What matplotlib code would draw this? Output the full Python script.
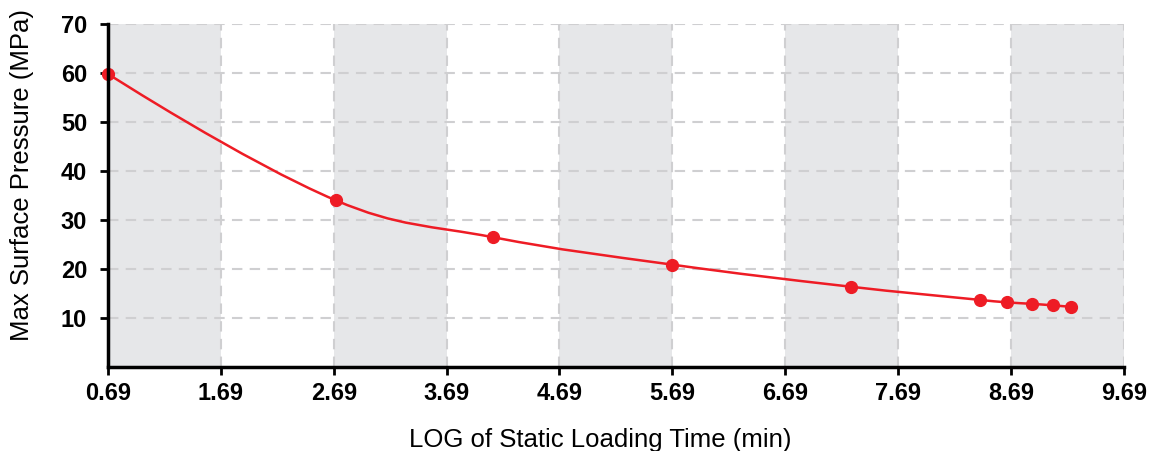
import numpy as np
import matplotlib
matplotlib.use('Agg')
import matplotlib.pyplot as plt
from matplotlib.path import Path
from matplotlib.patches import PathPatch

# ========== 数据 ==========
log_time = [0.69, 2.71, 4.10, 5.69, 7.27, 8.42, 8.66, 8.88, 9.06, 9.22]
pressure = [59.8, 34.0, 26.5, 20.9, 16.4, 13.7, 13.2, 12.9, 12.6, 12.3]

x_ticks = [0.69, 1.69, 2.69, 3.69, 4.69, 5.69, 6.69, 7.69, 8.69, 9.69]
y_ticks = [10, 20, 30, 40, 50, 60, 70]

RED = '#ee1c25'
BAND = '#e6e7e9'
GRID = '#cfcfd1'

plt.rcParams['font.family'] = ['Liberation Sans', 'DejaVu Sans']


def spline_path(xs, ys, smoothing=1.5):
    """Bezier 平滑曲线 (类似 Highcharts spline)"""
    n = len(xs)
    denom = smoothing + 1
    left = [(xs[i], ys[i]) for i in range(n)]
    right = [(xs[i], ys[i]) for i in range(n)]
    for i in range(1, n - 1):
        px, py = xs[i], ys[i]
        lx, ly = xs[i - 1], ys[i - 1]
        nx, ny = xs[i + 1], ys[i + 1]
        lcx = (smoothing * px + lx) / denom
        lcy = (smoothing * py + ly) / denom
        rcx = (smoothing * px + nx) / denom
        rcy = (smoothing * py + ny) / denom
        corr = 0
        if rcx != lcx:
            corr = (rcy - lcy) * (rcx - px) / (rcx - lcx) + py - rcy
        lcy += corr
        rcy += corr
        if lcy > ly and lcy > py:
            lcy = max(ly, py); rcy = 2 * py - lcy
        elif lcy < ly and lcy < py:
            lcy = min(ly, py); rcy = 2 * py - lcy
        if rcy > ny and rcy > py:
            rcy = max(ny, py); lcy = 2 * py - rcy
        elif rcy < ny and rcy < py:
            rcy = min(ny, py); lcy = 2 * py - rcy
        left[i] = (lcx, lcy)
        right[i] = (rcx, rcy)
    verts = [(xs[0], ys[0])]
    codes = [Path.MOVETO]
    for i in range(n - 1):
        verts += [right[i], left[i + 1], (xs[i + 1], ys[i + 1])]
        codes += [Path.CURVE4] * 3
    return Path(verts, codes)


fig = plt.figure(figsize=(11.49, 4.51), dpi=100)
ax = fig.add_axes([0.094, 0.186, 0.884, 0.761])

# 灰色交替背景
for i in range(0, len(x_ticks) - 1, 2):
    ax.axvspan(x_ticks[i], x_ticks[i + 1], color=BAND, lw=0, zorder=0)

# 虚线网格
for xv in x_ticks:
    ax.axvline(xv, color=GRID, lw=1.5, ls=(0, (5, 3.5)), zorder=1)
for yv in y_ticks:
    ax.axhline(yv, color=GRID, lw=1.5, ls=(0, (5, 3.5)), zorder=1)

# 平滑曲线 + 数据点
ax.add_patch(PathPatch(spline_path(log_time, pressure), fc='none', ec=RED,
                       lw=1.8, zorder=3, clip_on=False))
ax.plot(log_time, pressure, 'o', color=RED, ms=8.5, zorder=4, clip_on=False)

ax.set_xlim(0.69, 9.69)
ax.set_ylim(0, 70)
ax.set_xticks(x_ticks)
ax.set_xticklabels([f'{v:.2f}' for v in x_ticks])
ax.set_yticks(y_ticks)

for s in ['top', 'right']:
    ax.spines[s].set_visible(False)
for s in ['left', 'bottom']:
    ax.spines[s].set_color('black')
    ax.spines[s].set_linewidth(2.5)
    ax.spines[s].set_zorder(5)

ax.tick_params(axis='both', colors='black', width=2, length=6,
               labelsize=17)
ax.tick_params(axis='x', pad=5)
ax.tick_params(axis='y', pad=9)
for lab in ax.get_xticklabels() + ax.get_yticklabels():
    lab.set_fontweight('bold')

ax.set_xlabel('LOG of Static Loading Time (min)', fontsize=18.5)
ax.set_ylabel('Max Surface Pressure (MPa)', fontsize=18.5)
ax.xaxis.set_label_coords(0.485, -0.178)
ax.yaxis.set_label_coords(-0.073, 0.56)

plt.savefig('out.png', dpi=100)
plt.close()
